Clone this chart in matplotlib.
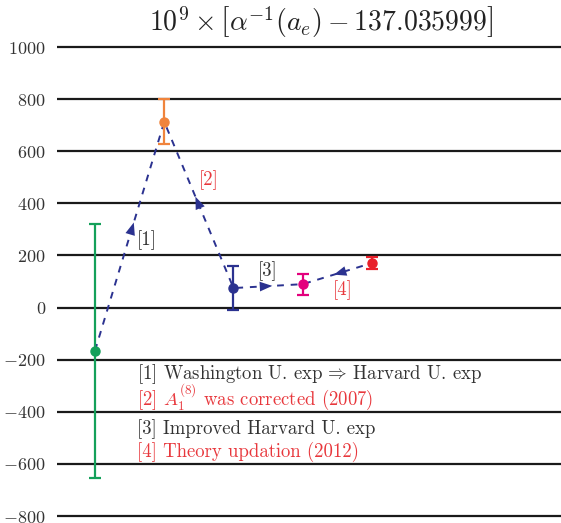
import matplotlib
matplotlib.use("Agg")
import matplotlib.pyplot as plt

plt.rcParams['font.family'] = ['cmr10', 'DejaVu Serif']
plt.rcParams['mathtext.fontset'] = 'cm'
plt.rcParams['axes.formatter.use_mathtext'] = True

# data
xpos = [1, 2, 3, 4, 5]
values = [-165, 713, 75, 90, 171]
errors = [487, 87, 85, 40, 23]
colors = ['#14a05a', '#f0843c', '#2b3290', '#e3007d', '#e8202a']
arrow_dir = [1, -1, 1, -1]   # arrow on each segment: +1 forward, -1 back
yticks = [-800, -600, -400, -200, 0, 200, 400, 600, 800, 1000]
ytick_labels = ['$-800$', '$-600$', '$-400$', '$-200$', '$0$', '$200$',
                '$400$', '$600$', '$800$', '$1000$']
seg_labels = ['[1]', '[2]', '[3]', '[4]']
seg_label_pos = [(1.75, 260), (2.64, 490), (3.49, 140), (4.57, 68)]
seg_label_colors = ['#333333', '#e8383d', '#333333', '#e8383d']
notes = ['[1] Washington U. exp$\\,\\Rightarrow\\,$Harvard U. exp',
         '[2] $A_1^{(8)}$ was corrected (2007)',
         '[3] Improved Harvard U. exp',
         '[4] Theory updation (2012)']
note_y = [-257, -343, -466, -552]
note_colors = ['#333333', '#e8383d', '#333333', '#e8383d']

line_col = '#2b3290'

fig = plt.figure(figsize=(5.61, 5.23), dpi=100)
ax = fig.add_axes([57 / 561, 0, 1 - 57 / 561, 483 / 523])
ax.set_xlim(0.451, 7.73)
ax.set_ylim(-826.6, 1027)

for yv in yticks:
    ax.axhline(yv, color='#1a1a1a', lw=1.6, zorder=1)

ax.plot(xpos, values, ls=(0, (3.5, 3.5)), color=line_col, lw=1.4, zorder=2)

# arrow heads at the middle of each segment
for i, d in enumerate(arrow_dir):
    x0, y0 = xpos[i], values[i]
    x1, y1 = xpos[i + 1], values[i + 1]
    fa, fb = (0.45, 0.56) if d > 0 else (0.56, 0.45)
    ax.annotate('', xy=(x0 + fb * (x1 - x0), y0 + fb * (y1 - y0)),
                xytext=(x0 + fa * (x1 - x0), y0 + fa * (y1 - y0)),
                arrowprops=dict(arrowstyle='-|>,head_length=0.9,head_width=0.35',
                                color=line_col, lw=0, shrinkA=0, shrinkB=0),
                zorder=3)

for x, v, e, c in zip(xpos, values, errors, colors):
    ax.errorbar([x], [v], yerr=[e], fmt='o', color=c, ms=6.5, lw=1.6,
                capsize=4, capthick=1.6, zorder=4)

for lab, (lx, ly), c in zip(seg_labels, seg_label_pos, seg_label_colors):
    ax.text(lx, ly, lab, color=c, fontsize=13.5, ha='center', va='center')

for txt, ny, c in zip(notes, note_y, note_colors):
    ax.text(1.60, ny, txt, color=c, fontsize=13.5, ha='left', va='center')

ax.set_yticks(yticks)
ax.set_yticklabels(ytick_labels, fontsize=13, color='#333333')
ax.tick_params(axis='y', length=0, pad=8)
ax.set_xticks([])
for s in ax.spines.values():
    s.set_visible(False)

fig.text(0.572, 0.958, r'$10^9 \times \left[\alpha^{-1}(a_e) - 137.035999\right]$',
         fontsize=20, ha='center', va='center', color='#222222')

fig.savefig('out.png', dpi=100)
